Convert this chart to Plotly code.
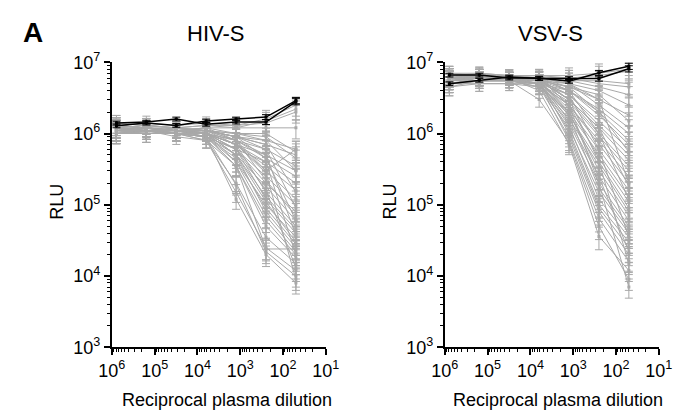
import plotly.graph_objects as go

# ---------------- data ----------------
dilutions = [781250, 156250, 31250, 6250, 1250, 250, 50]

hiv_gray = [
    [1.2e6, 1.3e6, 1.2e6, 1.3e6, 1.3e6, 1.6e6, 2.5e6],
    [1.1e6, 1.2e6, 1.1e6, 1.2e6, 1.2e6, 1.5e6, 2.2e6],
    [1.3e6, 1.4e6, 1.3e6, 1.4e6, 1.3e6, 1.4e6, 2.0e6],
    [1.4e6, 1.3e6, 1.2e6, 1.3e6, 1.2e6, 1.2e6, 1.2e6],
    [1.2e6, 1.1e6, 1.1e6, 1.2e6, 1.0e6, 8e5, 6e5],
    [1.1e6, 1.2e6, 1.1e6, 1.1e6, 9e5, 7e5, 5e5],
    [1.3e6, 1.2e6, 1.2e6, 1.1e6, 1.0e6, 9e5, 4.5e5],
    [1.0e6, 1.1e6, 1.1e6, 1.2e6, 8e5, 6e5, 3.5e5],
    [1.2e6, 1.3e6, 1.2e6, 1.0e6, 8e5, 5e5, 3e5],
    [1.1e6, 1.0e6, 1.0e6, 1.1e6, 9e5, 4.5e5, 2.5e5],
    [1.3e6, 1.2e6, 1.1e6, 1.1e6, 7e5, 4e5, 2e5],
    [1.0e6, 1.1e6, 1.1e6, 1.0e6, 7e5, 3.5e5, 1.6e5],
    [1.2e6, 1.1e6, 1.2e6, 1.1e6, 8e5, 3e5, 1.2e5],
    [1.1e6, 1.2e6, 1.0e6, 9e5, 6e5, 2.5e5, 1e5],
    [1.4e6, 1.3e6, 1.2e6, 1.1e6, 9e5, 6e5, 9e4],
    [1.1e6, 1.1e6, 1.1e6, 1.0e6, 6e5, 2e5, 8e4],
    [1.2e6, 1.1e6, 1.2e6, 1.1e6, 8e5, 2.2e5, 7e4],
    [1.0e6, 1.1e6, 1.0e6, 1.0e6, 5e5, 1.8e5, 6e4],
    [1.3e6, 1.2e6, 1.1e6, 1.0e6, 7e5, 1.5e5, 5e4],
    [1.1e6, 1.2e6, 1.1e6, 9e5, 5e5, 1.3e5, 4.5e4],
    [1.2e6, 1.1e6, 1.1e6, 1.0e6, 6e5, 1.2e5, 4e4],
    [1.1e6, 1.0e6, 1.0e6, 9e5, 4e5, 1e5, 3.5e4],
    [1.3e6, 1.2e6, 1.1e6, 1.0e6, 5e5, 1.1e5, 3e4],
    [1.1e6, 1.1e6, 1.0e6, 9e5, 4.5e5, 9e4, 2.8e4],
    [1.2e6, 1.1e6, 1.1e6, 1.0e6, 5e5, 8e4, 2.5e4],
    [1.0e6, 1.1e6, 1.1e6, 1.0e6, 4e5, 7e4, 2.2e4],
    [1.1e6, 1.2e6, 1.1e6, 9e5, 3.5e5, 6e4, 2e4],
    [1.2e6, 1.1e6, 1.0e6, 9e5, 3.5e5, 5e4, 1.8e4],
    [1.1e6, 1.1e6, 1.0e6, 8e5, 2e5, 3.5e4, 1.5e4],
    [1.0e6, 1.1e6, 9e5, 8e5, 1.5e5, 2.5e4, 1.2e4],
    [1.1e6, 1.2e6, 1.0e6, 9e5, 1.9e5, 2.2e4, 1e4],
    [1.2e6, 1.1e6, 1.1e6, 9e5, 1.2e5, 2e4, 8e3],
    [1.1e6, 1.0e6, 1.0e6, 8e5, 3.5e5, 2.4e4, 2.4e4],
    [1.3e6, 1.2e6, 1.1e6, 1.0e6, 7e5, 3e5, 6e5],
    [1.1e6, 1.1e6, 1.1e6, 1.1e6, 9e5, 8e5, 3e5],
    [1.2e6, 1.2e6, 1.1e6, 1.1e6, 1.0e6, 1.0e6, 5.5e5],
    [1.1e6, 1.1e6, 1.0e6, 9e5, 6e5, 1.6e5, 1.3e4],
    [1.3e6, 1.2e6, 1.1e6, 1.0e6, 6e5, 4e5, 2e4],
    [1.0e6, 1.0e6, 1.1e6, 1.0e6, 7e5, 5e5, 3.8e4],
    [1.1e6, 1.2e6, 1.1e6, 1.0e6, 8e5, 4.5e5, 6e4],
    [1.2e6, 1.1e6, 1.1e6, 1.1e6, 9e5, 7e5, 1.5e5],
    [1.1e6, 1.1e6, 1.0e6, 1.0e6, 7e5, 2.8e5, 9e3],
]
hiv_black = [
    [1.4e6, 1.45e6, 1.6e6, 1.35e6, 1.45e6, 1.45e6, 2.8e6],
    [1.28e6, 1.4e6, 1.3e6, 1.5e6, 1.6e6, 1.7e6, 2.9e6],
]

vsv_gray = [
    [6.5e6, 6.8e6, 6.5e6, 6.5e6, 6.5e6, 7e6, 8e6],
    [5.5e6, 6e6, 6e6, 6.2e6, 6e6, 6.5e6, 7.5e6],
    [7e6, 7e6, 6.5e6, 6.5e6, 6e6, 5e6, 4.5e6],
    [6e6, 6.5e6, 6e6, 6e6, 5.5e6, 4.5e6, 3.5e6],
    [5e6, 6e6, 6e6, 5.5e6, 5e6, 4e6, 2.5e6],
    [6.5e6, 6.5e6, 6.2e6, 6e6, 4.5e6, 3e6, 1.8e6],
    [4.5e6, 5.5e6, 5.5e6, 5.5e6, 4.5e6, 3.5e6, 1.5e6],
    [7e6, 6.5e6, 6e6, 6e6, 5e6, 2.5e6, 1.2e6],
    [6e6, 6e6, 6.5e6, 6e6, 4e6, 2.2e6, 1e6],
    [5.5e6, 6e6, 6e6, 5.5e6, 4.5e6, 2e6, 8e5],
    [6.5e6, 6.5e6, 6e6, 6e6, 4e6, 1.8e6, 7e5],
    [5e6, 5.5e6, 5.5e6, 5e6, 3.5e6, 1.5e6, 6e5],
    [6e6, 6e6, 6e6, 5.5e6, 3.5e6, 1.3e6, 5e5],
    [7e6, 6.5e6, 6.5e6, 6e6, 3e6, 1.2e6, 4.2e5],
    [5.5e6, 6e6, 6e6, 5.5e6, 3e6, 1e6, 3.5e5],
    [6e6, 6.5e6, 6e6, 5e6, 2.8e6, 9e5, 3e5],
    [6.5e6, 6e6, 6e6, 6e6, 2.5e6, 8e5, 2.5e5],
    [5e6, 5.5e6, 5.5e6, 5e6, 2.5e6, 7e5, 2e5],
    [6e6, 6e6, 5.5e6, 5.5e6, 2.2e6, 6e5, 1.6e5],
    [5.5e6, 6e6, 6e6, 5.5e6, 2e6, 5e5, 1.3e5],
    [6.5e6, 6.5e6, 6e6, 6e6, 2.5e6, 4.5e5, 1.1e5],
    [6e6, 6e6, 6e6, 5e6, 1.8e6, 4e5, 9e4],
    [5e6, 5.5e6, 5.5e6, 5e6, 1.6e6, 3.5e5, 8e4],
    [6e6, 6e6, 6e6, 5.5e6, 2e6, 3e5, 7e4],
    [6.5e6, 6e6, 6e6, 5.5e6, 1.5e6, 2.5e5, 6e4],
    [5.5e6, 6e6, 5.5e6, 5e6, 1.4e6, 2e5, 5e4],
    [6e6, 6.5e6, 6e6, 5.5e6, 1.8e6, 1.7e5, 4.5e4],
    [5e6, 5.5e6, 5.5e6, 4.5e6, 1.2e6, 1.5e5, 4e4],
    [6e6, 6e6, 6e6, 5e6, 1.3e6, 1.2e5, 3.5e4],
    [5.5e6, 6e6, 5.5e6, 5e6, 1.1e6, 1e5, 3e4],
    [6.5e6, 6.5e6, 6e6, 5.5e6, 1e6, 9e4, 2.5e4],
    [6e6, 6e6, 5.5e6, 4.5e6, 9e5, 8e4, 2e4],
    [5e6, 5.5e6, 5.5e6, 5e6, 8e5, 6.4e4, 1.6e4],
    [6e6, 6e6, 6e6, 4e6, 7e5, 3.6e4, 1.2e4],
    [5.5e6, 6e6, 5.5e6, 3e6, 7.5e5, 5e4, 9e3],
    [6e6, 6e6, 5.5e6, 5e6, 2.5e6, 2e5, 7e3],
    [6.5e6, 6e6, 6e6, 5.5e6, 3e6, 4e5, 1.5e4],
    [5e6, 5e6, 5e6, 4.5e6, 2e6, 2.5e5, 2.2e4],
    [6e6, 6.5e6, 6e6, 5.5e6, 3.5e6, 6e5, 3.5e4],
    [5.5e6, 5.5e6, 6e6, 5.5e6, 4e6, 1e6, 1.2e5],
    [6e6, 6e6, 6e6, 6e6, 5e6, 3e6, 2e5],
    [4.5e6, 5e6, 5e6, 5e6, 4e6, 2e6, 5.5e5],
    [6.5e6, 7e6, 6.5e6, 6e6, 5.5e6, 5.5e6, 5e6],
    [5.5e6, 6e6, 6e6, 5.5e6, 3e6, 1.2e6, 1.8e5],
]
vsv_black = [
    [6.6e6, 6.6e6, 6.0e6, 6.0e6, 5.4e6, 7.1e6, 8.8e6],
    [5.0e6, 5.6e6, 6.2e6, 5.9e6, 5.9e6, 5.9e6, 8.1e6],
]

# relative error (percent) of each dilution point
hiv_err_pct = [28, 25, 22, 22, 28, 32, 30]
vsv_err_pct = [25, 22, 20, 22, 28, 35, 30]
black_err_pct = [6, 6, 6, 6, 6, 8, 10]

x_tick_exp = [6, 5, 4, 3, 2, 1]
y_tick_exp = [3, 4, 5, 6, 7]

# ---------------- figure ----------------
GRAY = "#a8a8a8"
FONT = "Liberation Sans, Arial, sans-serif"
W, H = 691, 418

fig = go.Figure()


def add_series(vals, pct, color, xa, ya, lw):
    err = [v * p / 100.0 for v, p in zip(vals, pct)]
    fig.add_trace(go.Scatter(
        x=dilutions, y=vals, mode="lines+markers",
        line=dict(color=color, width=lw),
        marker=dict(color=color, size=3, symbol="square"),
        error_y=dict(type="data", array=err, arrayminus=err,
                     color=color, thickness=1, width=4),
        xaxis=xa, yaxis=ya, showlegend=False, hoverinfo="skip",
    ))


for s in hiv_gray:
    add_series(s, hiv_err_pct, GRAY, "x", "y", 1)
for s in hiv_black:
    add_series(s, black_err_pct, "black", "x", "y", 1.5)
for s in vsv_gray:
    add_series(s, vsv_err_pct, GRAY, "x2", "y2", 1)
for s in vsv_black:
    add_series(s, black_err_pct, "black", "x2", "y2", 1.5)


def px_x(p):
    return p / W


def px_y(p):
    return (H - p) / H


minor_x = [m * 10 ** e for e in range(1, 6) for m in range(2, 10)]
minor_y = [m * 10 ** e for e in range(3, 7) for m in range(2, 10)]

xaxis_common = dict(
    type="log", range=[6, 1], showgrid=False, zeroline=False,
    showline=True, linecolor="black", linewidth=2,
    ticks="outside", ticklen=6, tickwidth=1.5, tickcolor="black",
    tickmode="array", tickvals=[10 ** e for e in x_tick_exp],
    ticktext=[f"10<sup>{e}</sup>" for e in x_tick_exp],
    tickfont=dict(family=FONT, size=18, color="black"),
    minor=dict(tickmode="array", tickvals=minor_x, ticks="outside",
               ticklen=3, tickwidth=1, tickcolor="black", showgrid=False),
)
yaxis_common = dict(
    type="log", range=[3, 7], showgrid=False, zeroline=False,
    showline=True, linecolor="black", linewidth=2,
    ticks="outside", ticklen=6, tickwidth=1.5, tickcolor="black",
    tickmode="array", tickvals=[10 ** e for e in y_tick_exp],
    ticktext=[f"10<sup>{e}</sup>" for e in y_tick_exp],
    tickfont=dict(family=FONT, size=18, color="black"),
    minor=dict(tickmode="array", tickvals=minor_y, ticks="outside",
               ticklen=3, tickwidth=1, tickcolor="black", showgrid=False),
)

fig.update_layout(
    width=W, height=H, margin=dict(l=0, r=0, t=0, b=0),
    paper_bgcolor="white", plot_bgcolor="white",
    xaxis=dict(domain=[px_x(102), px_x(325)], anchor="y", **xaxis_common),
    yaxis=dict(domain=[px_y(354), px_y(53)], anchor="x", **yaxis_common),
    xaxis2=dict(domain=[px_x(449), px_x(672)], anchor="y2", **xaxis_common),
    yaxis2=dict(domain=[px_y(354), px_y(53)], anchor="x2", **yaxis_common),
)

annots = [
    dict(text="<b>A</b>", x=px_x(20), y=px_y(22), size=28),
    dict(text="HIV-S", x=px_x(210), y=px_y(23), size=22),
    dict(text="VSV-S", x=px_x(559), y=px_y(23), size=22),
    dict(text="Reciprocal plasma dilution", x=px_x(222), y=px_y(410), size=18),
    dict(text="Reciprocal plasma dilution", x=px_x(567), y=px_y(410), size=18),
]
for a in annots:
    fig.add_annotation(text=a["text"], x=a["x"], y=a["y"], xref="paper", yref="paper",
                       showarrow=False, xanchor="center", yanchor="middle",
                       font=dict(family=FONT, size=a["size"], color="black"))
for xc in (45, 392):
    fig.add_annotation(text="RLU", x=px_x(xc), y=px_y(200), xref="paper", yref="paper",
                       showarrow=False, textangle=-90, xanchor="center", yanchor="middle",
                       font=dict(family=FONT, size=18, color="black"))

fig.write_html("out.html")
